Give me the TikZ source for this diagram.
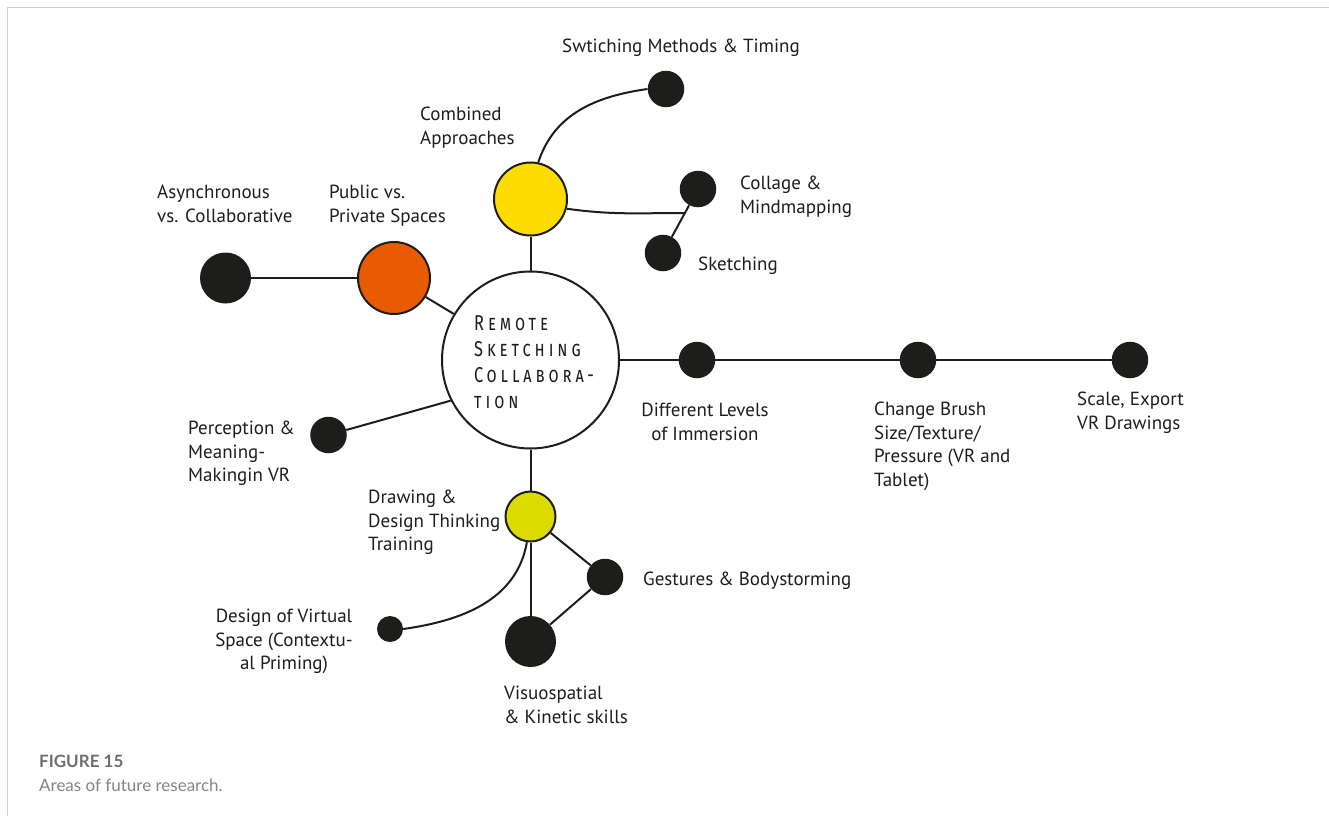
\documentclass[tikz,border=0pt]{standalone}
\usepackage{fontspec}
\setmainfont{PT Sans}
\newfontfamily\capfont{Lato}
\newfontfamily\ctrfont[LetterSpace=24]{Fira Sans}
\usetikzlibrary{calc}

\definecolor{ink}{HTML}{1D1D1B}
\definecolor{orangeA}{HTML}{E85B00}
\definecolor{yellowA}{HTML}{FFDC00}
\definecolor{limeA}{HTML}{DBDB00}
\definecolor{framegray}{HTML}{CFCFCF}
\definecolor{capgray}{HTML}{6E6E6E}

\newcommand{\lblfont}{\fontsize{19}{23.5}\selectfont}

\pgfdeclarelayer{links}
\pgfsetlayers{links,main}

\tikzset{
  link/.style={draw=ink, line width=2pt},
  dot/.style={circle, fill=ink, inner sep=0pt, minimum size=#1},
  hub/.style={circle, draw=ink, line width=2pt, inner sep=0pt, minimum size=#1},
  lbl/.style={font=\lblfont, inner sep=0pt, align=left, anchor=north west, text=ink},
  clbl/.style={lbl, align=center, anchor=north},
}

\begin{document}
\begin{tikzpicture}[x=1pt, y=1pt]
  \useasboundingbox (0,0) rectangle (1329,-816);

  % page frame
  \draw[framegray, line width=1.5pt] (7.5,-816) -- (7.5,-7.5) -- (1329,-7.5);

  % hubs
  \node[hub=177, fill=white] (ctr) at (530.5,-360) {};
  \node[hub=73, fill=yellowA] (ya) at (530.5,-199) {};
  \node[hub=72, fill=orangeA] (pub) at (394,-278) {};
  \node[hub=50, fill=limeA] (ly) at (530.5,-516.5) {};

  % leaf dots
  \node[dot=36.5] (sw) at (666,-89) {};
  \node[dot=36.5] (co) at (698,-189) {};
  \node[dot=36.5] (sk) at (663,-253) {};
  \node[dot=51] (asy) at (225.5,-278) {};
  \node[dot=36.5] (per) at (328.5,-435) {};
  \node[dot=36.5] (dl) at (697,-360) {};
  \node[dot=36.5] (cb) at (918,-360) {};
  \node[dot=36.5] (se) at (1130,-360) {};
  \node[dot=36.5] (ge) at (605,-577) {};
  \node[dot=51] (vs) at (530.5,-641.5) {};
  \node[dot=26] (des) at (390,-629) {};

  \coordinate (jn) at ($(co)!0.375!(sk)$);

  % connectors, kept beneath the circles
  \begin{pgfonlayer}{links}
    \draw[link] (ctr) -- (ya);
    \draw[link] (ya.78) to[out=72, in=188] (sw.west);
    \draw[link] (ya.-15) to[out=-8, in=180] (jn);
    \draw[link] (co) -- (sk);
    \draw[link] (ctr) -- (pub);
    \draw[link] (pub) -- (asy);
    \draw[link] (per) -- (ctr.207);
    \draw[link] (ctr) -- (dl) -- (cb) -- (se);
    \draw[link] (ctr) -- (ly);
    \draw[link] (ly) -- (vs);
    \draw[link] (ly) -- (ge) -- (vs);
    \draw[link] (ly.262) to[out=-100, in=8] (des.east);
  \end{pgfonlayer}

  % central label
  \node[anchor=west, inner sep=0pt, text=ink] (ctrtxt) at (474,-364.5)
    {\scalebox{0.76}[1]{\ctrfont\fontsize{21.5}{26}\selectfont\scshape
      \begin{tabular}{@{}l@{}}Remote\\Sketching\\Collabora-\\tion\end{tabular}}};

  % labels
  \node[lbl] (tsw) at (562,-39) {Swtiching Methods \& Timing};
  \node[lbl] (tya) at (420,-107) {Combined\\Approaches};
  \node[lbl] (tasy) at (157,-185) {Asynchronous\\vs. Collaborative};
  \node[lbl] (tpub) at (329,-185) {Public vs.\\Private Spaces};
  \node[lbl] (tco) at (740,-176) {Collage \&\\Mindmapping};
  \node[lbl] (tsk) at (698,-257) {Sketching};
  \node[clbl] (tdl) at (705,-403) {Different Levels\\of Immersion};
  \node[lbl] (tcb) at (874,-402) {Change Brush\\Size/Texture/\\Pressure (VR and\\Tablet)};
  \node[lbl] (tse) at (1077,-392) {Scale, Export\\VR Drawings};
  \node[lbl] (tper) at (188,-421) {Perception \&\\Meaning-\\Makingin VR};
  \node[lbl] (tly) at (368,-490) {Drawing \&\\Design Thinking\\Training};
  \node[lbl] (tge) at (643,-572) {Gestures \& Bodystorming};
  \node[clbl] (tdes) at (284,-609) {Design of Virtual\\Space (Contextu-\\al Priming)};
  \node[lbl] (tvs) at (504,-686) {Visuospatial\\\& Kinetic skills};

  % caption
  \node[anchor=base west, inner sep=0pt, text=capgray, font=\capfont\bfseries\fontsize{17}{20}\selectfont] (fig) at (39,-767) {FIGURE 15};
  \node[anchor=base west, inner sep=0pt, text=capgray!85, font=\capfont\fontsize{17}{20}\selectfont] (cap) at (39,-791) {Areas of future research.};
\end{tikzpicture}
\end{document}
